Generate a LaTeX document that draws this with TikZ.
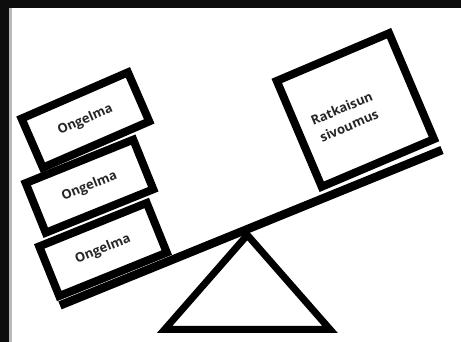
\documentclass[tikz,border=0pt]{standalone}
\usepackage{fontspec}
\setsansfont{Open Sans}
\usetikzlibrary{positioning}

\begin{document}
\begin{tikzpicture}[x=1pt, y=1pt,
  teksti/.style={align=center, inner sep=0pt, text=black!85,
    font=\sffamily\bfseries\fontsize{13}{19}\selectfont},
  paino/.style={teksti, draw, line width=8pt, fill=white},
  ongelma/.style={paino, minimum width=116pt, minimum height=53.5pt}]
  \useasboundingbox (0,0) rectangle (461,342);
  \fill[white] (0,0) rectangle (461,342);
  % screenshot frame
  \fill[black!95] (0,0) rectangle (9,342);
  \fill[black!95] (0,334) rectangle (461,342);
  \fill[gray!55] (9,0) rectangle (12,334);

  % fulcrum and plank
  \draw[line width=7pt] (247.3,107) -- (330.1,12.5) -- (164.6,12.5) -- cycle;
  \coordinate (vasen) at (60,36.6);
  \coordinate (oikea) at (442,192);
  \draw[line width=8.5pt] (vasen) -- (oikea);

  % weights
  \node[ongelma, rotate=22] (ongelma3) at (103,92.5) {Ongelma};
  \node[ongelma, rotate=22] (ongelma2) at (89.5,155.8) {Ongelma};
  \node[ongelma, rotate=23.5] (ongelma1) at (85.4,222) {Ongelma};
  \node[paino, rotate=23, minimum width=122pt, minimum height=115pt] (ratkaisu) at (355.4,232) {};
  \node[teksti, rotate=23] (ratkaisuteksti) at ([shift={(-10,-7)}]ratkaisu.center) {Ratkaisun\\sivoumus};
\end{tikzpicture}
\end{document}
